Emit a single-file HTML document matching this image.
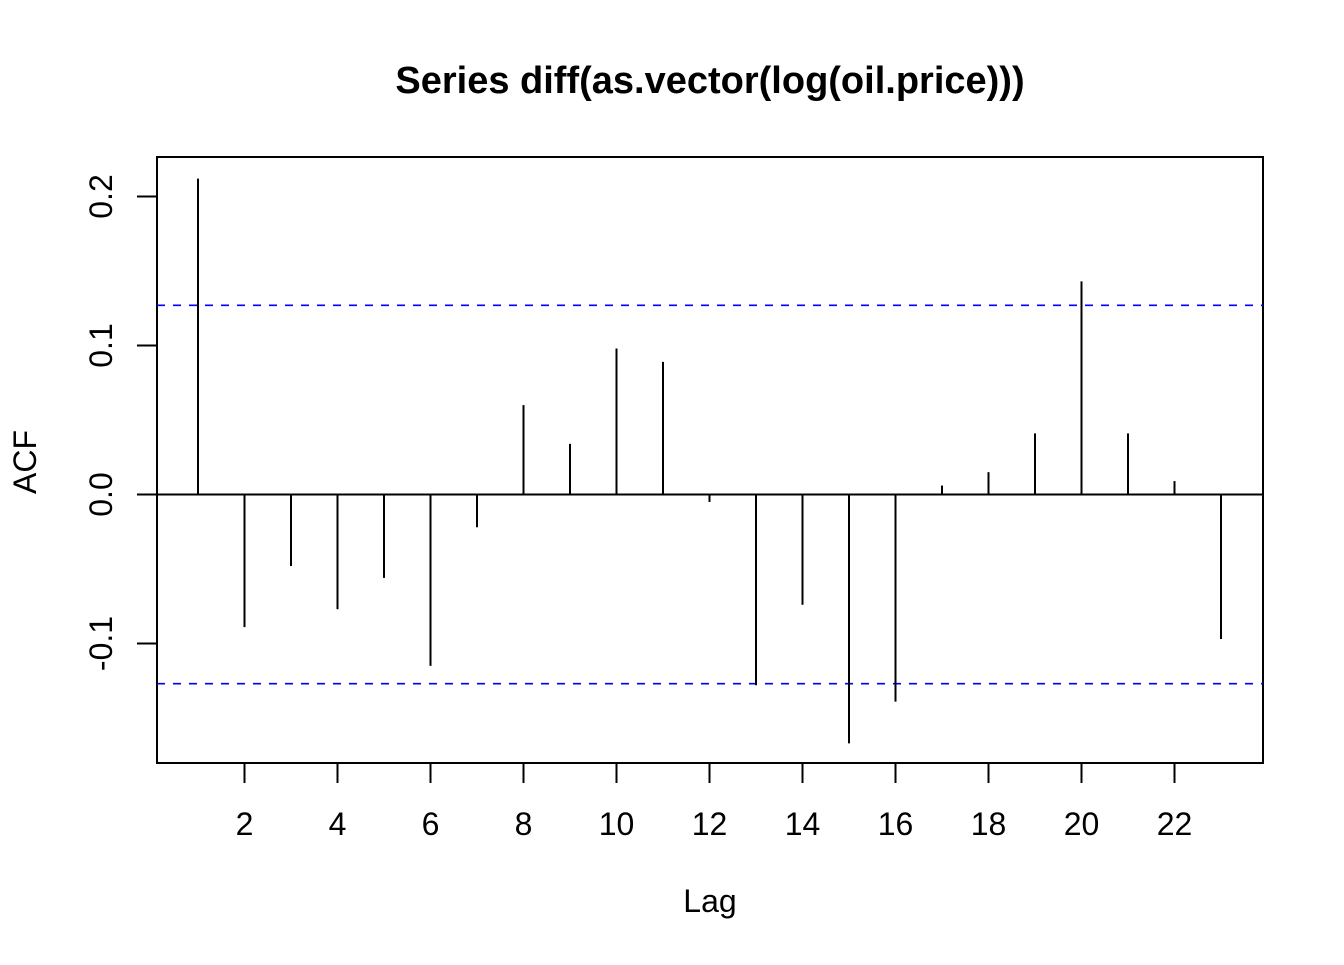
<!DOCTYPE html>
<html><head><meta charset="utf-8"><style>
html,body{margin:0;padding:0;background:#fff;}
svg text{font-family:"Liberation Sans",Arial,sans-serif;}
</style></head><body>
<svg id="chart" width="1344" height="960" viewBox="0 0 1344 960" xmlns="http://www.w3.org/2000/svg">
<rect width="1344" height="960" fill="#fff"/>
<text x="710" y="93" text-anchor="middle" font-size="38" font-weight="bold">Series diff(as.vector(log(oil.price)))</text>
<text x="710" y="912" text-anchor="middle" font-size="32">Lag</text>
<text transform="translate(36,462) rotate(-90)" text-anchor="middle" font-size="32">ACF</text>
<rect x="157" y="157" width="1106" height="606" fill="none" stroke="#000" stroke-width="2"/>
<g id="marks"></g>
</svg>
<script>
const lags = [1,2,3,4,5,6,7,8,9,10,11,12,13,14,15,16,17,18,19,20,21,22,23];
const acfValues = [0.212,-0.089,-0.048,-0.077,-0.056,-0.115,-0.022,0.060,0.034,0.098,0.089,-0.005,-0.128,-0.074,-0.167,-0.139,0.006,0.015,0.041,0.143,0.041,0.009,-0.097];
const ciLevel = [0.127];
const xTicks = [2,4,6,8,10,12,14,16,18,20,22];
const yTicks = [-0.1,0.0,0.1,0.2];
const yTickLabels = ["-0.1","0.0","0.1","0.2"];

const X = l => 198 + (l-1)*46.5;
const Y = v => 494.5 - v*1490;
const ns = "http://www.w3.org/2000/svg";
const g = document.getElementById('marks');
function mk(tag, attrs){const e=document.createElementNS(ns,tag);for(const k in attrs)e.setAttribute(k,attrs[k]);g.appendChild(e);return e;}

let e = mk('line',{x1:157,x2:1263,y1:Y(0),y2:Y(0),stroke:'#000','stroke-width':2});


[ciLevel[0], -ciLevel[0]].forEach((c,i)=>{
  const l = mk('line',{x1:157,x2:1263,y1:Y(c),y2:Y(c),stroke:'#0000ff','stroke-width':1.6,'stroke-dasharray':'8,8'});
  
  
});
lags.forEach((lag,i)=>{
  const b = mk('line',{x1:X(lag),x2:X(lag),y1:Y(0),y2:Y(acfValues[i]),stroke:'#000','stroke-width':2});
  
  
});
xTicks.forEach(t=>{
  const tk = mk('line',{x1:X(t),x2:X(t),y1:763,y2:783,stroke:'#000','stroke-width':2});
  
  
  const tx = mk('text',{x:X(t),y:835,'text-anchor':'middle','font-size':32});
  tx.textContent = t;
  
  
});
yTicks.forEach((t,i)=>{
  const tk = mk('line',{x1:137,x2:157,y1:Y(t),y2:Y(t),stroke:'#000','stroke-width':2});
  
  
  const tx = mk('text',{transform:`translate(112,${Y(t)}) rotate(-90)`,'text-anchor':'middle','font-size':32});
  tx.textContent = yTickLabels[i];
  
  
});
</script>
</body></html>
